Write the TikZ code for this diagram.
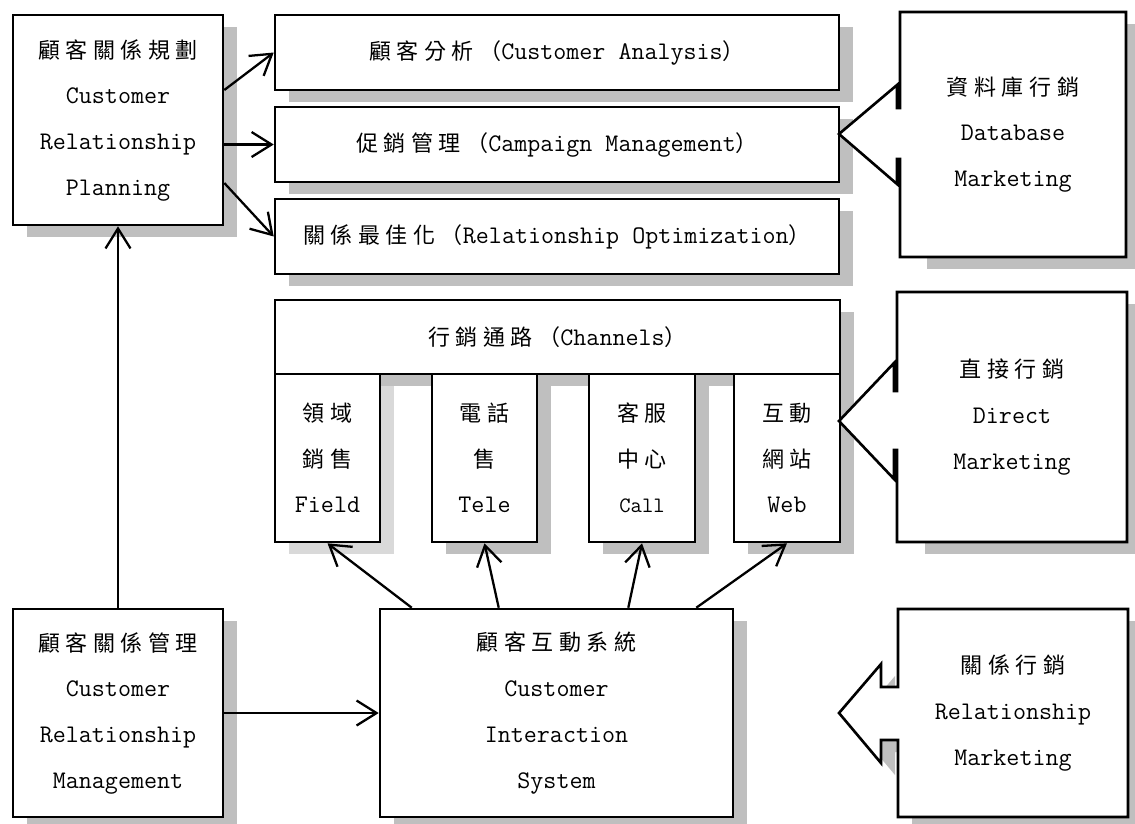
\documentclass[tikz,border=0pt]{standalone}
\usepackage{fontspec}
\newfontfamily\zhfont[LetterSpace=25,Scale=0.87]{Noto Sans CJK TC}
\usepackage{tikz}
\usetikzlibrary{arrows.meta,calc,shadows}
\definecolor{shadeC}{gray}{0.75}
\definecolor{paleC}{gray}{0.85}
\newcommand{\zh}[1]{{\zhfont #1}}

\begin{document}
\begin{tikzpicture}[x=0.02cm,y=-0.02cm,
  box/.style={draw,line width=1.5pt,fill=white,align=center,inner sep=0pt,
    font={\ttfamily\fontsize{14.4}{26}\selectfont},
    drop shadow={shadow xshift=0.28cm,shadow yshift=-0.24cm,fill=shadeC,opacity=1}},
  calltext/.style={align=center,inner sep=0pt,font={\ttfamily\fontsize{14.4}{26}\selectfont}},
  link/.style={line width=1.3pt,-{Straight Barb[length=4mm,width=5mm]}}]
  \useasboundingbox (0,0) rectangle (1135,823);

  % Planning side
  \node[box,minimum width=4.2cm,minimum height=4.2cm] (crp) at (118,120)
    {\zh{顧客關係規劃}\\Customer\\Relationship\\Planning};
  \node[box,minimum width=11.28cm,minimum height=1.5cm] (ca) at (557,52.5)
    {\zh{顧客分析（}Customer Analysis\zh{）}};
  \node[box,minimum width=11.28cm,minimum height=1.5cm] (cm) at (557,144.5)
    {\zh{促銷管理（}Campaign Management\zh{）}};
  \node[box,minimum width=11.28cm,minimum height=1.5cm] (ro) at (557,236.5)
    {\zh{關係最佳化（}Relationship Optimization\zh{）}};

  % Database marketing callout
  \coordinate (dbtip) at (839,134);
  \fill[shadeC] (927,24) rectangle (1140,269);
  \draw[line width=1.5pt,fill=white] (900,12) -- (1126,12) -- (1126,257) -- (900,257)
    -- (900,159) -- (897,159) -- (897,184) -- (dbtip) -- (897,85) -- (897,108)
    -- (900,108) -- cycle;
  \node[calltext] (dbm) at (1013,134.5) {\zh{資料庫行銷}\\Database\\Marketing};

  % Channels
  \node[box,minimum width=11.3cm,minimum height=1.48cm] (ch) at (557.5,337)
    {\zh{行銷通路（}Channels\zh{）}};
  \node[box,minimum width=2.1cm,minimum height=3.36cm,
    drop shadow={shadow xshift=0.28cm,shadow yshift=-0.24cm,fill=paleC,opacity=1}]
    (field) at (327.5,458) {\zh{領域}\\\zh{銷售}\\Field};
  \node[box,minimum width=2.1cm,minimum height=3.36cm] (tele) at (484.5,458)
    {\zh{電話}\\\zh{售}\\Tele};
  \node[box,minimum width=2.12cm,minimum height=3.36cm] (call) at (642,458)
    {\zh{客服}\\\zh{中心}\\{\fontsize{12.5}{26}\selectfont Call}};
  \node[box,minimum width=2.12cm,minimum height=3.36cm] (web) at (787,458)
    {\zh{互動}\\\zh{網站}\\Web};

  % Direct marketing callout
  \coordinate (dmtip) at (839,421);
  \fill[shadeC] (925,304) rectangle (1141,554);
  \draw[line width=1.5pt,fill=white] (897,292) -- (1127,292) -- (1127,542) -- (897,542)
    -- (897,450) -- (894,450) -- (894,479) -- (dmtip) -- (894,363) -- (894,391)
    -- (897,391) -- cycle;
  \node[calltext] (dm) at (1012,417) {\zh{直接行銷}\\Direct\\Marketing};

  % Management side
  \node[box,minimum width=4.2cm,minimum height=4.16cm] (crm) at (118,713)
    {\zh{顧客關係管理}\\Customer\\Relationship\\Management};
  \node[box,minimum width=7.06cm,minimum height=4.16cm] (cis) at (556.5,713)
    {\zh{顧客互動系統}\\Customer\\Interaction\\System};

  % Relationship marketing callout
  \coordinate (rmtip) at (839,713);
  \fill[shadeC,shift={(14,12)}] (898,609) -- (1128,609) -- (1128,817) -- (898,817)
    -- (898,740) -- (881,740) -- (881,763) -- (839,713) -- (881,664) -- (881,687)
    -- (898,687) -- cycle;
  \draw[line width=1.5pt,fill=white] (898,609) -- (1128,609) -- (1128,817) -- (898,817)
    -- (898,740) -- (881,740) -- (881,763) -- (rmtip) -- (881,664) -- (881,687)
    -- (898,687) -- cycle;
  \node[calltext] (rm) at (1013,713) {\zh{關係行銷}\\Relationship\\Marketing};

  % Connectors
  \draw[link] (crm.north) -- (crp.south);
  \draw[link] ($(crp.east)+(0,-30)$) -- (ca.west);
  \draw[link] (crp.east |- cm.west) -- (cm.west);
  \draw[link] ($(crp.east)+(0,63)$) -- (ro.west);
  \draw[link] (crm.east) -- (cis.west);
  \draw[link] ($(cis.north west)+(33,0)$) -- (field.south);
  \draw[link] ($(cis.north west)+(120,0)$) -- (tele.south);
  \draw[link] ($(cis.north east)+(-106,0)$) -- (call.south);
  \draw[link] ($(cis.north east)+(-38,0)$) -- (web.south);
\end{tikzpicture}
\end{document}
